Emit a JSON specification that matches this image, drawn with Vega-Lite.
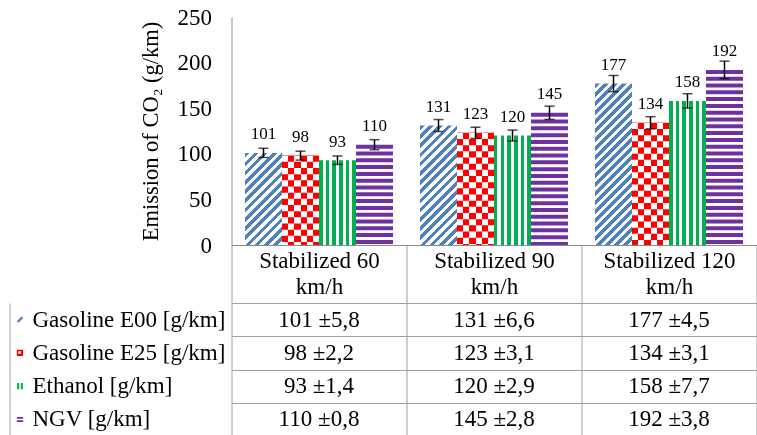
{
  "$schema": "https://vega.github.io/schema/vega-lite/v6.json",
  "padding": {"left": 9.5, "top": 6, "right": 0, "bottom": 0},
  "background": "white",
  "config": {"view": {"stroke": null}, "font": "'Liberation Serif', 'DejaVu Serif', serif", "text": {"font": "'Liberation Serif', 'DejaVu Serif', serif", "color": "black"}},
  "datasets": {
    "emis": [
      {"speed": "Stabilized 60", "fuel": "Gasoline E00 [g/km]", "value": 101, "lo": 95.95, "hi": 106.05, "cell": "101 ±5,8"},
      {"speed": "Stabilized 90", "fuel": "Gasoline E00 [g/km]", "value": 131, "lo": 124.45, "hi": 137.55, "cell": "131 ±6,6"},
      {"speed": "Stabilized 120", "fuel": "Gasoline E00 [g/km]", "value": 177, "lo": 168.15, "hi": 185.85, "cell": "177 ±4,5"},
      {"speed": "Stabilized 60", "fuel": "Gasoline E25 [g/km]", "value": 98, "lo": 93.1, "hi": 102.9, "cell": "98 ±2,2"},
      {"speed": "Stabilized 90", "fuel": "Gasoline E25 [g/km]", "value": 123, "lo": 116.85, "hi": 129.15, "cell": "123 ±3,1"},
      {"speed": "Stabilized 120", "fuel": "Gasoline E25 [g/km]", "value": 134, "lo": 127.3, "hi": 140.7, "cell": "134 ±3,1"},
      {"speed": "Stabilized 60", "fuel": "Ethanol [g/km]", "value": 93, "lo": 88.35, "hi": 97.65, "cell": "93 ±1,4"},
      {"speed": "Stabilized 90", "fuel": "Ethanol [g/km]", "value": 120, "lo": 114, "hi": 126, "cell": "120 ±2,9"},
      {"speed": "Stabilized 120", "fuel": "Ethanol [g/km]", "value": 158, "lo": 150.1, "hi": 165.9, "cell": "158 ±7,7"},
      {"speed": "Stabilized 60", "fuel": "NGV [g/km]", "value": 110, "lo": 104.5, "hi": 115.5, "cell": "110 ±0,8"},
      {"speed": "Stabilized 90", "fuel": "NGV [g/km]", "value": 145, "lo": 137.75, "hi": 152.25, "cell": "145 ±2,8"},
      {"speed": "Stabilized 120", "fuel": "NGV [g/km]", "value": 192, "lo": 182.4, "hi": 201.6, "cell": "192 ±3,8"}
    ]
  },
  "spacing": 58,
  "bounds": "flush",
  "vconcat": [
    {
      "width": 747,
      "height": 228,
      "data": {"name": "emis"},
      "encoding": {
        "x": {
          "field": "speed", "type": "nominal",
          "sort": ["Stabilized 60", "Stabilized 90", "Stabilized 120"],
          "scale": {"range": [222, 747], "paddingInner": 0, "paddingOuter": 0},
          "axis": {
            "title": null, "orient": "bottom", "domain": true, "domainColor": "#8c8c8c", "domainWidth": 1,
            "ticks": true, "tickBand": "extent", "tickSize": 58, "tickColor": "#a0a0a0", "tickWidth": 1,
            "labelExpr": "isValid(datum.label) && datum.label !== '' ? [datum.label, 'km/h'] : ''", "labelAngle": 0, "labelFont": "'Liberation Serif', 'DejaVu Serif', serif",
            "labelFontSize": 23, "labelColor": "black", "labelPadding": -54, "labelLineHeight": 26.5,
            "labelBaseline": "top", "labelOverlap": false, "labelLimit": 0
          }
        },
        "xOffset": {
          "field": "fuel", "type": "nominal",
          "sort": ["Gasoline E00 [g/km]", "Gasoline E25 [g/km]", "Ethanol [g/km]", "NGV [g/km]"],
          "scale": {"paddingInner": 0, "paddingOuter": 0.365}
        }
      },
      "layer": [
        {
          "mark": {"type": "bar", "strokeWidth": 0},
          "encoding": {
            "y": {
              "field": "value", "type": "quantitative",
              "scale": {"domain": [0, 250], "nice": false, "zero": true},
              "axis": {
                "title": "Emission of CO₂ (g/km)", "offset": -222, "values": [0, 50, 100, 150, 200, 250],
                "grid": false, "ticks": false, "tickSize": 0, "domainColor": "#8c8c8c",
                "labelFont": "'Liberation Serif', 'DejaVu Serif', serif", "labelFontSize": 23, "labelColor": "black", "labelPadding": 20,
                "titleFont": "'Liberation Serif', 'DejaVu Serif', serif", "titleFontSize": 22.5, "titleFontWeight": "normal",
                "titleColor": "black", "titlePadding": 15
              }
            },
            "fill": {
              "condition": [
                {"test": "datum.fuel === 'Gasoline E00 [g/km]' && datum.speed === 'Stabilized 60'",
                 "value": {"gradient": "linear", "x1": 0, "y1": 0, "x2": 0.4848, "y2": 1.2069, "stops": [
                  {"offset":0,"color":"#4f81bd"},{"offset":0.0357,"color":"#4f81bd"},{"offset":0.0357,"color":"#fff"},{"offset":0.0714,"color":"#fff"},{"offset":0.0714,"color":"#4f81bd"},{"offset":0.1071,"color":"#4f81bd"},{"offset":0.1071,"color":"#fff"},{"offset":0.1429,"color":"#fff"},{"offset":0.1429,"color":"#4f81bd"},{"offset":0.1786,"color":"#4f81bd"},{"offset":0.1786,"color":"#fff"},{"offset":0.2143,"color":"#fff"},{"offset":0.2143,"color":"#4f81bd"},{"offset":0.25,"color":"#4f81bd"},{"offset":0.25,"color":"#fff"},{"offset":0.2857,"color":"#fff"},{"offset":0.2857,"color":"#4f81bd"},{"offset":0.3214,"color":"#4f81bd"},{"offset":0.3214,"color":"#fff"},{"offset":0.3571,"color":"#fff"},{"offset":0.3571,"color":"#4f81bd"},{"offset":0.3929,"color":"#4f81bd"},{"offset":0.3929,"color":"#fff"},{"offset":0.4286,"color":"#fff"},{"offset":0.4286,"color":"#4f81bd"},{"offset":0.4643,"color":"#4f81bd"},{"offset":0.4643,"color":"#fff"},{"offset":0.5,"color":"#fff"},{"offset":0.5,"color":"#4f81bd"},{"offset":0.5357,"color":"#4f81bd"},{"offset":0.5357,"color":"#fff"},{"offset":0.5714,"color":"#fff"},{"offset":0.5714,"color":"#4f81bd"},{"offset":0.6071,"color":"#4f81bd"},{"offset":0.6071,"color":"#fff"},{"offset":0.6429,"color":"#fff"},{"offset":0.6429,"color":"#4f81bd"},{"offset":0.6786,"color":"#4f81bd"},{"offset":0.6786,"color":"#fff"},{"offset":0.7143,"color":"#fff"},{"offset":0.7143,"color":"#4f81bd"},{"offset":0.75,"color":"#4f81bd"},{"offset":0.75,"color":"#fff"},{"offset":0.7857,"color":"#fff"},{"offset":0.7857,"color":"#4f81bd"},{"offset":0.8214,"color":"#4f81bd"},{"offset":0.8214,"color":"#fff"},{"offset":0.8571,"color":"#fff"},{"offset":0.8571,"color":"#4f81bd"},{"offset":0.8929,"color":"#4f81bd"},{"offset":0.8929,"color":"#fff"},{"offset":0.9286,"color":"#fff"},{"offset":0.9286,"color":"#4f81bd"},{"offset":0.9643,"color":"#4f81bd"},{"offset":0.9643,"color":"#fff"},{"offset":1,"color":"#fff"}
                 ]}},
                {"test": "datum.fuel === 'Gasoline E00 [g/km]' && datum.speed === 'Stabilized 90'",
                 "value": {"gradient": "linear", "x1": 0, "y1": 0, "x2": 0.3701, "y2": 1.1951, "stops": [
                  {"offset":0,"color":"#4f81bd"},{"offset":0.0294,"color":"#4f81bd"},{"offset":0.0294,"color":"#fff"},{"offset":0.0588,"color":"#fff"},{"offset":0.0588,"color":"#4f81bd"},{"offset":0.0882,"color":"#4f81bd"},{"offset":0.0882,"color":"#fff"},{"offset":0.1176,"color":"#fff"},{"offset":0.1176,"color":"#4f81bd"},{"offset":0.1471,"color":"#4f81bd"},{"offset":0.1471,"color":"#fff"},{"offset":0.1765,"color":"#fff"},{"offset":0.1765,"color":"#4f81bd"},{"offset":0.2059,"color":"#4f81bd"},{"offset":0.2059,"color":"#fff"},{"offset":0.2353,"color":"#fff"},{"offset":0.2353,"color":"#4f81bd"},{"offset":0.2647,"color":"#4f81bd"},{"offset":0.2647,"color":"#fff"},{"offset":0.2941,"color":"#fff"},{"offset":0.2941,"color":"#4f81bd"},{"offset":0.3235,"color":"#4f81bd"},{"offset":0.3235,"color":"#fff"},{"offset":0.3529,"color":"#fff"},{"offset":0.3529,"color":"#4f81bd"},{"offset":0.3824,"color":"#4f81bd"},{"offset":0.3824,"color":"#fff"},{"offset":0.4118,"color":"#fff"},{"offset":0.4118,"color":"#4f81bd"},{"offset":0.4412,"color":"#4f81bd"},{"offset":0.4412,"color":"#fff"},{"offset":0.4706,"color":"#fff"},{"offset":0.4706,"color":"#4f81bd"},{"offset":0.5,"color":"#4f81bd"},{"offset":0.5,"color":"#fff"},{"offset":0.5294,"color":"#fff"},{"offset":0.5294,"color":"#4f81bd"},{"offset":0.5588,"color":"#4f81bd"},{"offset":0.5588,"color":"#fff"},{"offset":0.5882,"color":"#fff"},{"offset":0.5882,"color":"#4f81bd"},{"offset":0.6176,"color":"#4f81bd"},{"offset":0.6176,"color":"#fff"},{"offset":0.6471,"color":"#fff"},{"offset":0.6471,"color":"#4f81bd"},{"offset":0.6765,"color":"#4f81bd"},{"offset":0.6765,"color":"#fff"},{"offset":0.7059,"color":"#fff"},{"offset":0.7059,"color":"#4f81bd"},{"offset":0.7353,"color":"#4f81bd"},{"offset":0.7353,"color":"#fff"},{"offset":0.7647,"color":"#fff"},{"offset":0.7647,"color":"#4f81bd"},{"offset":0.7941,"color":"#4f81bd"},{"offset":0.7941,"color":"#fff"},{"offset":0.8235,"color":"#fff"},{"offset":0.8235,"color":"#4f81bd"},{"offset":0.8529,"color":"#4f81bd"},{"offset":0.8529,"color":"#fff"},{"offset":0.8824,"color":"#fff"},{"offset":0.8824,"color":"#4f81bd"},{"offset":0.9118,"color":"#4f81bd"},{"offset":0.9118,"color":"#fff"},{"offset":0.9412,"color":"#fff"},{"offset":0.9412,"color":"#4f81bd"},{"offset":0.9706,"color":"#4f81bd"},{"offset":0.9706,"color":"#fff"},{"offset":1,"color":"#fff"}
                 ]}},
                {"test": "datum.fuel === 'Gasoline E00 [g/km]' && datum.speed === 'Stabilized 120'",
                 "value": {"gradient": "linear", "x1": 0, "y1": 0, "x2": 0.2677, "y2": 1.1679, "stops": [
                  {"offset":0,"color":"#4f81bd"},{"offset":0.0227,"color":"#4f81bd"},{"offset":0.0227,"color":"#fff"},{"offset":0.0455,"color":"#fff"},{"offset":0.0455,"color":"#4f81bd"},{"offset":0.0682,"color":"#4f81bd"},{"offset":0.0682,"color":"#fff"},{"offset":0.0909,"color":"#fff"},{"offset":0.0909,"color":"#4f81bd"},{"offset":0.1136,"color":"#4f81bd"},{"offset":0.1136,"color":"#fff"},{"offset":0.1364,"color":"#fff"},{"offset":0.1364,"color":"#4f81bd"},{"offset":0.1591,"color":"#4f81bd"},{"offset":0.1591,"color":"#fff"},{"offset":0.1818,"color":"#fff"},{"offset":0.1818,"color":"#4f81bd"},{"offset":0.2045,"color":"#4f81bd"},{"offset":0.2045,"color":"#fff"},{"offset":0.2273,"color":"#fff"},{"offset":0.2273,"color":"#4f81bd"},{"offset":0.25,"color":"#4f81bd"},{"offset":0.25,"color":"#fff"},{"offset":0.2727,"color":"#fff"},{"offset":0.2727,"color":"#4f81bd"},{"offset":0.2955,"color":"#4f81bd"},{"offset":0.2955,"color":"#fff"},{"offset":0.3182,"color":"#fff"},{"offset":0.3182,"color":"#4f81bd"},{"offset":0.3409,"color":"#4f81bd"},{"offset":0.3409,"color":"#fff"},{"offset":0.3636,"color":"#fff"},{"offset":0.3636,"color":"#4f81bd"},{"offset":0.3864,"color":"#4f81bd"},{"offset":0.3864,"color":"#fff"},{"offset":0.4091,"color":"#fff"},{"offset":0.4091,"color":"#4f81bd"},{"offset":0.4318,"color":"#4f81bd"},{"offset":0.4318,"color":"#fff"},{"offset":0.4545,"color":"#fff"},{"offset":0.4545,"color":"#4f81bd"},{"offset":0.4773,"color":"#4f81bd"},{"offset":0.4773,"color":"#fff"},{"offset":0.5,"color":"#fff"},{"offset":0.5,"color":"#4f81bd"},{"offset":0.5227,"color":"#4f81bd"},{"offset":0.5227,"color":"#fff"},{"offset":0.5455,"color":"#fff"},{"offset":0.5455,"color":"#4f81bd"},{"offset":0.5682,"color":"#4f81bd"},{"offset":0.5682,"color":"#fff"},{"offset":0.5909,"color":"#fff"},{"offset":0.5909,"color":"#4f81bd"},{"offset":0.6136,"color":"#4f81bd"},{"offset":0.6136,"color":"#fff"},{"offset":0.6364,"color":"#fff"},{"offset":0.6364,"color":"#4f81bd"},{"offset":0.6591,"color":"#4f81bd"},{"offset":0.6591,"color":"#fff"},{"offset":0.6818,"color":"#fff"},{"offset":0.6818,"color":"#4f81bd"},{"offset":0.7045,"color":"#4f81bd"},{"offset":0.7045,"color":"#fff"},{"offset":0.7273,"color":"#fff"},{"offset":0.7273,"color":"#4f81bd"},{"offset":0.75,"color":"#4f81bd"},{"offset":0.75,"color":"#fff"},{"offset":0.7727,"color":"#fff"},{"offset":0.7727,"color":"#4f81bd"},{"offset":0.7955,"color":"#4f81bd"},{"offset":0.7955,"color":"#fff"},{"offset":0.8182,"color":"#fff"},{"offset":0.8182,"color":"#4f81bd"},{"offset":0.8409,"color":"#4f81bd"},{"offset":0.8409,"color":"#fff"},{"offset":0.8636,"color":"#fff"},{"offset":0.8636,"color":"#4f81bd"},{"offset":0.8864,"color":"#4f81bd"},{"offset":0.8864,"color":"#fff"},{"offset":0.9091,"color":"#fff"},{"offset":0.9091,"color":"#4f81bd"},{"offset":0.9318,"color":"#4f81bd"},{"offset":0.9318,"color":"#fff"},{"offset":0.9545,"color":"#fff"},{"offset":0.9545,"color":"#4f81bd"},{"offset":0.9773,"color":"#4f81bd"},{"offset":0.9773,"color":"#fff"},{"offset":1,"color":"#fff"}
                 ]}},
                {"test": "datum.fuel === 'Gasoline E25 [g/km]'",
                 "value": {"gradient": "linear", "x1": 0, "y1": 0, "x2": 1, "y2": 0, "stops": [
                  {"offset":0,"color":"#ff0000"},{"offset":0.1667,"color":"#ff0000"},{"offset":0.1667,"color":"#fff"},{"offset":0.3333,"color":"#fff"},{"offset":0.3333,"color":"#ff0000"},{"offset":0.5,"color":"#ff0000"},{"offset":0.5,"color":"#fff"},{"offset":0.6667,"color":"#fff"},{"offset":0.6667,"color":"#ff0000"},{"offset":0.8333,"color":"#ff0000"},{"offset":0.8333,"color":"#fff"},{"offset":1,"color":"#fff"}
                 ]}},
                {"test": "datum.fuel === 'Ethanol [g/km]'",
                 "value": {"gradient": "linear", "x1": 0, "y1": 0, "x2": 1, "y2": 0, "stops": [
                  {"offset":0,"color":"#00b050"},{"offset":0.0946,"color":"#00b050"},{"offset":0.0946,"color":"#fff"},{"offset":0.1811,"color":"#fff"},{"offset":0.1811,"color":"#00b050"},{"offset":0.2757,"color":"#00b050"},{"offset":0.2757,"color":"#fff"},{"offset":0.3622,"color":"#fff"},{"offset":0.3622,"color":"#00b050"},{"offset":0.4568,"color":"#00b050"},{"offset":0.4568,"color":"#fff"},{"offset":0.5432,"color":"#fff"},{"offset":0.5432,"color":"#00b050"},{"offset":0.6378,"color":"#00b050"},{"offset":0.6378,"color":"#fff"},{"offset":0.7243,"color":"#fff"},{"offset":0.7243,"color":"#00b050"},{"offset":0.8189,"color":"#00b050"},{"offset":0.8189,"color":"#fff"},{"offset":0.9054,"color":"#fff"},{"offset":0.9054,"color":"#00b050"},{"offset":1,"color":"#00b050"}
                 ]}}
              ],
              "value": "transparent"
            }
          }
        },
        {
          "transform": [{"filter": "datum.fuel === 'Gasoline E25 [g/km]'"}],
          "mark": {"type": "rule", "color": "#00ffff", "strokeWidth": 37, "strokeDash": [6.17, 6.17], "blend": "difference"},
          "encoding": {"y": {"field": "value", "type": "quantitative"}, "y2": {"datum": 0}}
        },
        {
          "transform": [{"filter": "datum.fuel === 'NGV [g/km]'"}],
          "mark": {"type": "rule", "color": "#7030a0", "strokeWidth": 37, "strokeDash": [4, 2.8]},
          "encoding": {"y": {"field": "value", "type": "quantitative"}, "y2": {"datum": 0}}
        },
        {
          "mark": {"type": "rule", "color": "black", "strokeWidth": 1.5},
          "encoding": {"y": {"field": "lo", "type": "quantitative"}, "y2": {"field": "hi"}}
        },
        {
          "mark": {"type": "tick", "color": "black", "thickness": 1.5, "size": 10},
          "encoding": {"y": {"field": "lo", "type": "quantitative"}}
        },
        {
          "mark": {"type": "tick", "color": "black", "thickness": 1.5, "size": 10},
          "encoding": {"y": {"field": "hi", "type": "quantitative"}}
        },
        {
          "mark": {"type": "text", "fontSize": 17, "dy": -13.5, "baseline": "alphabetic", "font": "'Liberation Serif', 'DejaVu Serif', serif", "color": "black"},
          "encoding": {"y": {"field": "value", "type": "quantitative"}, "text": {"field": "value", "type": "quantitative"}}
        }
      ]
    },
    {
      "width": 747,
      "height": 133,
      "data": {"name": "emis"},
      "encoding": {
        "y": {
          "field": "fuel", "type": "nominal",
          "sort": ["Gasoline E00 [g/km]", "Gasoline E25 [g/km]", "Ethanol [g/km]", "NGV [g/km]"],
          "scale": {"paddingInner": 0, "paddingOuter": 0},
          "axis": {"title": null, "grid": true, "tickBand": "extent", "labels": false, "ticks": false, "domain": true, "domainColor": "#a0a0a0", "gridColor": "#a0a0a0", "gridOpacity": 1, "gridWidth": 1}
        }
      },
      "layer": [
        {
          "mark": {"type": "text", "fontSize": 23, "font": "'Liberation Serif', 'DejaVu Serif', serif", "color": "black", "baseline": "middle"},
          "encoding": {
            "x": {
              "field": "speed", "type": "nominal",
              "sort": ["Stabilized 60", "Stabilized 90", "Stabilized 120"],
              "scale": {"range": [222, 747], "paddingInner": 0, "paddingOuter": 0},
              "axis": {"title": null, "grid": true, "tickBand": "extent", "labels": false, "ticks": false, "domain": false, "gridColor": "#a0a0a0", "gridOpacity": 1, "gridWidth": 1}
            },
            "text": {"field": "cell", "type": "nominal"}
          }
        },
        {
          "transform": [{"filter": "datum.speed === 'Stabilized 60'"}],
          "mark": {"type": "text", "fontSize": 23, "font": "'Liberation Serif', 'DejaVu Serif', serif", "color": "black", "align": "left", "baseline": "middle"},
          "encoding": {
            "x": {"datum": "label", "type": "nominal", "scale": {"type": "point", "domain": ["label"], "range": [23, 23]}, "axis": null},
            "text": {"field": "fuel", "type": "nominal"}
          }
        },
        {
          "transform": [{"filter": "datum.speed === 'Stabilized 60'"}],
          "mark": {"type": "point", "filled": true, "size": 40, "strokeWidth": 0, "opacity": 1},
          "encoding": {
            "x": {"datum": "key", "type": "nominal", "scale": {"type": "point", "domain": ["key"], "range": [10.5, 10.5]}, "axis": null},
            "shape": {
              "field": "fuel", "type": "nominal", "legend": null,
              "scale": {
                "domain": ["Gasoline E00 [g/km]", "Gasoline E25 [g/km]", "Ethanol [g/km]", "NGV [g/km]"],
                "range": [
                  "M-1,0.5L0.5,-1L1,-0.5L-0.5,1Z",
                  "M-1,-1H1V1H-1Z M-0.55,-0.55V0.25H0.25V-0.55Z",
                  "M-0.9,-1H-0.25V1H-0.9Z M0.25,-1H0.9V1H0.25Z",
                  "M-1,-0.75H1V-0.2H-1Z M-1,0.3H1V0.85H-1Z"
                ]
              }
            },
            "color": {
              "field": "fuel", "type": "nominal", "legend": null,
              "scale": {
                "domain": ["Gasoline E00 [g/km]", "Gasoline E25 [g/km]", "Ethanol [g/km]", "NGV [g/km]"],
                "range": ["#4f81bd", "#ff0000", "#00b050", "#7030a0"]
              }
            }
          }
        }
      ],
      "resolve": {"scale": {"x": "independent"}, "axis": {"x": "independent"}}
    }
  ]
}
